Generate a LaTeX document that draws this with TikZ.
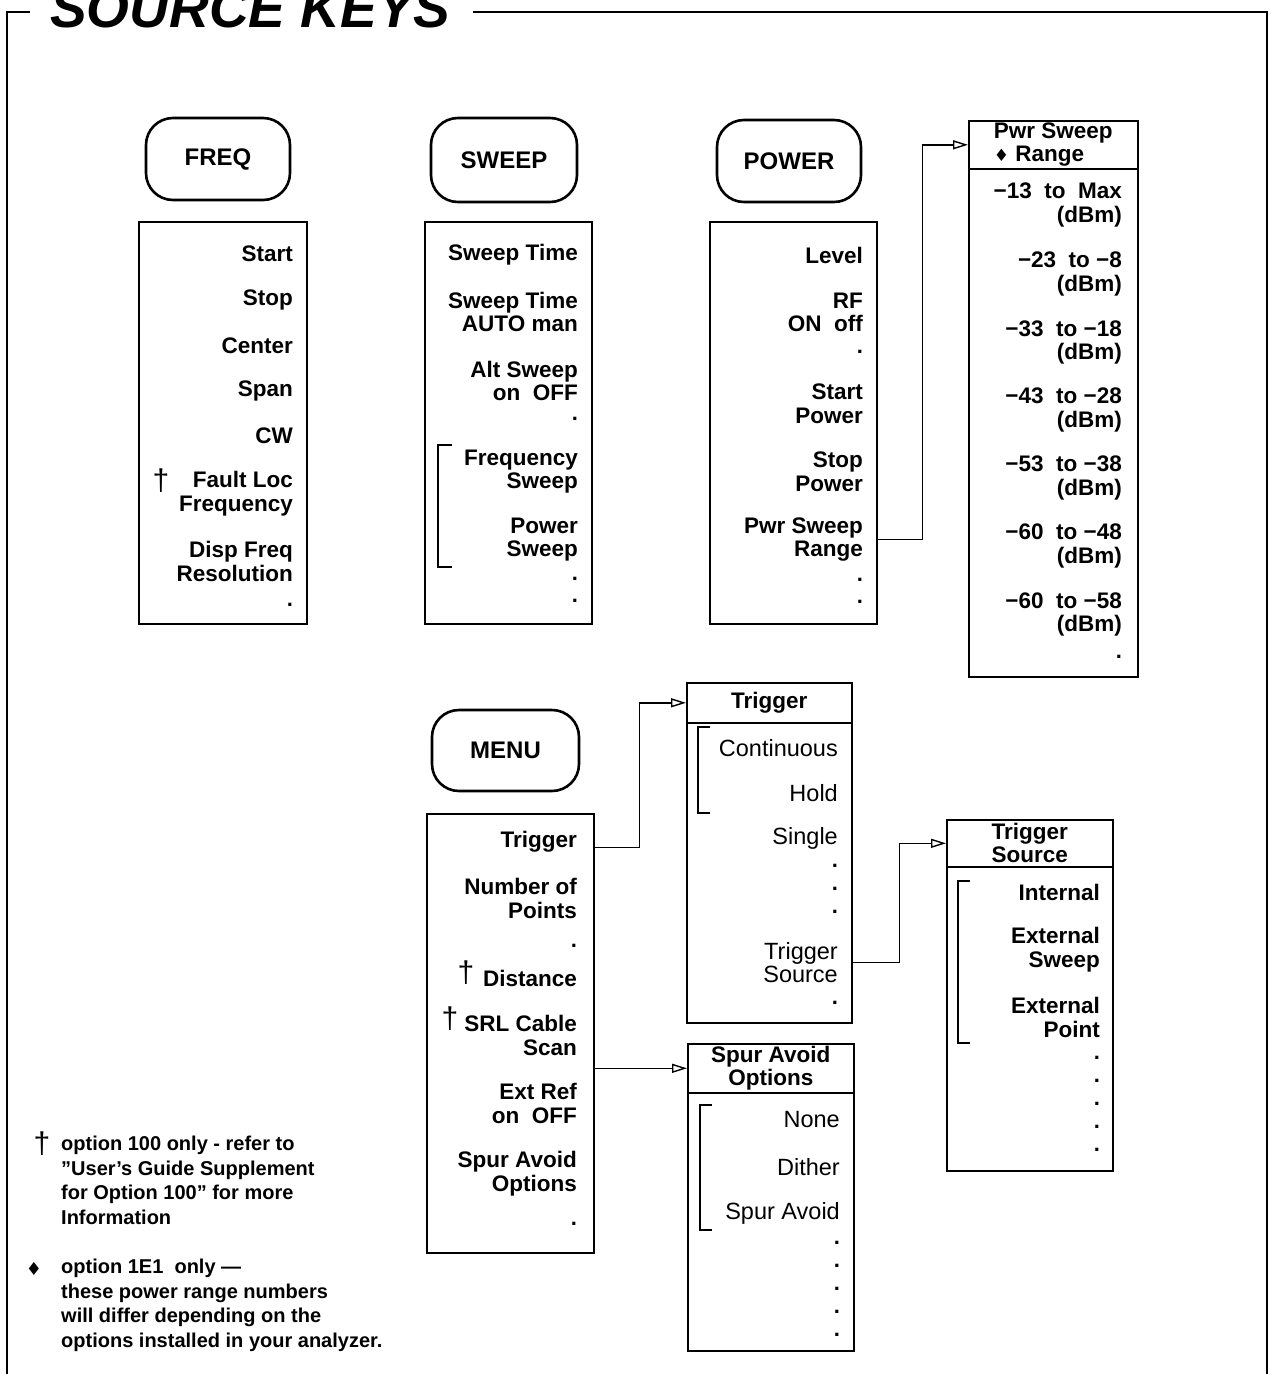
\documentclass[tikz,border=0pt]{standalone}
\usepackage{fontspec}
\setmainfont{Liberation Sans}
\newfontfamily\djv{DejaVu Sans}
\usetikzlibrary{arrows.meta}
\begin{document}
\begin{tikzpicture}[x=1pt,y=-1pt,
  keybox/.style={draw, line width=2.6pt, rounded corners=27pt, minimum width=144pt, minimum height=82pt, inner sep=0pt, font=\fontsize{24}{24}\selectfont\bfseries},
  listbox/.style={draw, line width=1.6pt, anchor=north west, inner sep=0pt},
  itm/.style={anchor=east, inner sep=0pt, align=right, font=\fontsize{22.5}{23.5}\selectfont\bfseries},
  itr/.style={anchor=east, inner sep=0pt, align=right, font=\fontsize{23.5}{23.5}\selectfont},
  hdr/.style={inner sep=0pt, font=\fontsize{22.5}{23}\selectfont\bfseries},
  pt/.style={inner sep=0pt, font=\fontsize{22}{22}\selectfont\bfseries},
  dag/.style={inner sep=0pt, font=\fontsize{30}{30}\selectfont},
  note/.style={anchor=north west, inner sep=0pt, align=left, font=\fontsize{20}{24.5}\selectfont\bfseries},
  conn/.style={line width=1.4pt, -{Triangle[open, length=15pt, width=9pt]}},
  brk/.style={line width=1.2pt},
  frame/.style={line width=1.3pt}
]
\useasboundingbox (0,0) rectangle (1271,1374);
% title and frame
\node[anchor=base west, inner sep=0pt, font=\fontsize{55}{55}\selectfont\bfseries\itshape] (title) at (50,27) {SOURCE KEYS};
\draw[frame] (title.west |- 0,12) ++(-20,0) -- (7,12) -- (7,1374);
\draw[frame] (title.east |- 0,12) ++(22,0) -- (1267,12) -- (1267,1374);

% hard keys
\node[keybox] (freq) at (218,159) {FREQ};
\node[keybox, minimum width=146pt, minimum height=84pt] (sweep) at (504,160) {SWEEP};
\node[keybox] (power) at (789,161) {POWER};
\node[keybox, minimum width=147pt, minimum height=81pt] (menu) at (505.5,750.5) {MENU};

% FREQ menu
\node[listbox, minimum width=168pt, minimum height=402pt] (freqm) at (138,221) {};
\node[itm] (fstart) at (293,254) {Start};
\node[itm] (fstop) at (293,300) {Stop};
\node[itm] (fcenter) at (293,346) {Center};
\node[itm] (fspan) at (293,391) {Span};
\node[itm] (fcw) at (293,436) {CW};
\node[itm] (ffault) at (293,493.5) {Fault Loc\\Frequency};
\node[dag] (fdag) at (161,481) {†};
\node[itm] (fdisp) at (293,561.5) {Disp Freq\\Resolution};
\node[pt] (fd1) at (290,605) {.};

% SWEEP menu
\node[listbox, minimum width=167pt, minimum height=402pt] (sweepm) at (424,221) {};
\node[itm] (sst) at (578,255) {Sweep Time};
\node[itm] (ssta) at (578,312) {Sweep Time\\AUTO man};
\node[itm] (salt) at (578,381) {Alt Sweep\\on\ \ OFF};
\node[pt] (sd1) at (575,419) {.};
\node[itm] (sfs) at (578,471.5) {Frequency\\Sweep};
\node[itm] (sps) at (578,539.5) {Power\\Sweep};
\node[pt] (sd2) at (575,579) {.};
\node[pt] (sd3) at (575,601) {.};
\draw[brk] (452,445) -- (438,445) -- (438,567) -- (452,567);

% POWER menu
\node[listbox, minimum width=167pt, minimum height=402pt] (powerm) at (709,221) {};
\node[itm] (plev) at (863,255) {Level};
\node[itm] (prf) at (863,312.5) {RF\\ON\ \ off};
\node[pt] (pd1) at (860,352) {.};
\node[itm] (pstart) at (863,403.5) {Start\\Power};
\node[itm] (pstop) at (863,471.5) {Stop\\Power};
\node[itm] (psr) at (863,539.5) {Pwr Sweep\\Range};
\node[pt] (pd2) at (860,580) {.};
\node[pt] (pd3) at (860,602) {.};

% Pwr Sweep Range menu
\node[listbox, minimum width=169pt, minimum height=48pt] (rangeh) at (968,120) {};
\node[hdr, align=left] (rangeht) at (rangeh.center) {Pwr Sweep\\{\djv\fontsize{17}{17}\selectfont ♦} Range};
\node[listbox, minimum width=169pt, minimum height=508pt] (rangeb) at (968,168) {};
\node[itm] (r1) at (1122,205) {−13\ \ to\ \ Max\\(dBm)};
\node[itm] (r2) at (1122,274) {−23\ \ to\ −8\\(dBm)};
\node[itm] (r3) at (1122,342.5) {−33\ \ to\ −18\\(dBm)};
\node[itm] (r4) at (1122,410) {−43\ \ to\ −28\\(dBm)};
\node[itm] (r5) at (1122,478) {−53\ \ to\ −38\\(dBm)};
\node[itm] (r6) at (1122,546) {−60\ \ to\ −48\\(dBm)};
\node[itm] (r7) at (1122,614.5) {−60\ \ to\ −58\\(dBm)};
\node[pt] (rd1) at (1119,657) {.};

% MENU menu
\node[listbox, minimum width=167pt, minimum height=439pt] (menum) at (426,813) {};
\node[itm] (mtrig) at (577,842) {Trigger};
\node[itm] (mnum) at (577,898.5) {Number of\\Points};
\node[pt] (md1) at (574,946) {.};
\node[itm] (mdist) at (577,978) {Distance};
\node[dag] (mdag1) at (466,973) {†};
\node[itm] (msrl) at (577,1035.5) {SRL Cable\\Scan};
\node[dag] (mdag2) at (450,1019) {†};
\node[itm] (mext) at (577,1103.5) {Ext Ref\\on\ \ OFF};
\node[itm] (mspur) at (577,1173.5) {Spur Avoid\\Options};
\node[pt] (md2) at (574,1224) {.};

% Trigger menu
\node[listbox, minimum width=165pt, minimum height=40pt] (trigh) at (686,682) {};
\node[hdr] (tright) at (trigh.center) {Trigger};
\node[listbox, minimum width=165pt, minimum height=300pt] (trigb) at (686,722) {};
\node[itr] (tcont) at (838,748) {Continuous};
\node[itr] (thold) at (838,793) {Hold};
\node[itr] (tsing) at (838,838) {Single};
\node[pt] (td1) at (835,866) {.};
\node[pt] (td2) at (835,889) {.};
\node[pt] (td3) at (835,912) {.};
\node[itr] (tsrc) at (838,962.5) {Trigger\\Source};
\node[pt] (td4) at (835,1003) {.};
\draw[brk] (710,727) -- (698,727) -- (698,813) -- (710,813);

% Trigger Source menu
\node[listbox, minimum width=166pt, minimum height=47pt] (tsh) at (946,819) {};
\node[hdr, align=center] (tsht) at (tsh.center) {Trigger\\Source};
\node[listbox, minimum width=166pt, minimum height=304pt] (tsb) at (946,866) {};
\node[itm] (tsint) at (1100,892) {Internal};
\node[itm] (tsext) at (1100,949.5) {External\\Sweep};
\node[itm] (tspt) at (1100,1017.5) {External\\Point};
\node[pt] (tsd1) at (1097,1058) {.};
\node[pt] (tsd2) at (1097,1081) {.};
\node[pt] (tsd3) at (1097,1104) {.};
\node[pt] (tsd4) at (1097,1127) {.};
\node[pt] (tsd5) at (1097,1150) {.};
\draw[brk] (970,881) -- (958,881) -- (958,1043) -- (970,1043);

% Spur Avoid Options menu
\node[listbox, minimum width=166pt, minimum height=49pt] (spurh) at (687,1043) {};
\node[hdr, align=center] (spurht) at (spurh.center) {Spur Avoid\\Options};
\node[listbox, minimum width=166pt, minimum height=258pt] (spurb) at (687,1092) {};
\node[itr] (snone) at (840,1120) {None};
\node[itr] (sdith) at (840,1167) {Dither};
\node[itr] (sspur) at (840,1213) {Spur Avoid};
\node[pt] (spd1) at (837,1243) {.};
\node[pt] (spd2) at (837,1266) {.};
\node[pt] (spd3) at (837,1289) {.};
\node[pt] (spd4) at (837,1312) {.};
\node[pt] (spd5) at (837,1335) {.};
\draw[brk] (712,1105) -- (700,1105) -- (700,1230) -- (712,1230);

% connectors
\draw[conn] (psr.east -| powerm.east) -- ++(45,0) |- (rangeh.west);
\draw[conn] (mtrig.base -| menum.east) -- ++(45,0) |- (trigh.west);
\draw[conn] (tsrc.east -| trigb.east) -- ++(47,0) |- (tsh.west);
\draw[conn] (menum.east |- spurh.west) -- (spurh.west);

% footnotes
\node[dag] (n1dag) at (42,1144) {†};
\node[note] (n1) at (61,1136) {option 100 only - refer to\\\symbol{34}User's Guide Supplement\\for Option 100\symbol{34} for more\\Information};
\node[inner sep=0pt, font=\djv\fontsize{18}{18}\selectfont] (n2dia) at (34,1269) {♦};
\node[note] (n2) at (61,1259) {option 1E1\ \ only —\\these power range numbers\\will differ depending on the\\options installed in your analyzer.};
\end{tikzpicture}
\end{document}
